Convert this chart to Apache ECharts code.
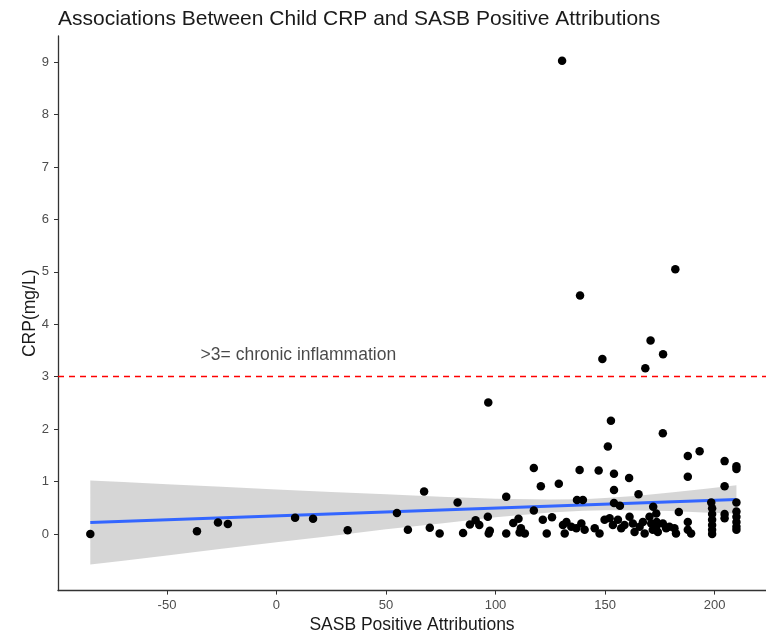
<!DOCTYPE html>
<html>
<head>
<meta charset="utf-8">
<script src="https://cdn.jsdelivr.net/npm/echarts@6/dist/echarts.min.js"></script>
<style>
  html, body { margin: 0; padding: 0; background: #ffffff; }
  #chart { width: 766px; height: 634px; }
</style>
</head>
<body>
<div id="chart"></div>
<script>
// Observations: [SASB positive attributions, CRP (mg/L)]
const observations = [
  [-85, 0.00], [-36.3, 0.05], [-26.7, 0.22], [-22.2, 0.19], [8.5, 0.31], [16.7, 0.29],
  [32.5, 0.07], [55, 0.40], [60, 0.08], [67.4, 0.81], [70, 0.12], [74.5, 0.01],
  [82.7, 0.60], [85.2, 0.02], [88.3, 0.18], [90.9, 0.26], [92.6, 0.17], [96.7, 2.51],
  [96.5, 0.33], [97.4, 0.06], [96.9, 0.01], [104.9, 0.71], [104.9, 0.01], [108.1, 0.21],
  [110.5, 0.29], [111.6, 0.11], [111, 0.03], [113.4, 0.01],
  [117.5, 1.26], [120.7, 0.91], [128.9, 0.96], [117.5, 0.45], [121.6, 0.27], [125.8, 0.32],
  [123.4, 0.01], [130.8, 0.17], [131.6, 0.01],
  [130.4, 9.03], [138.6, 4.55], [148.8, 3.34], [168.4, 3.16], [170.8, 3.69], [176.5, 3.43], [182.1, 5.05],
  [138.4, 1.22], [147.1, 1.21], [152.7, 2.16], [151.3, 1.67], [154.1, 1.15], [161, 1.07],
  [154.1, 0.84], [165.3, 0.76], [176.4, 1.92], [187.8, 1.49], [193.2, 1.58], [187.8, 1.09],
  [204.6, 1.39], [210, 1.29], [210, 1.24], [204.6, 0.91],
  [137.2, 0.65], [139.9, 0.65], [154.1, 0.59], [156.8, 0.54], [172, 0.52], [183.7, 0.42],
  [198.5, 0.60], [210, 0.60],
  [132.4, 0.23], [134.6, 0.14], [136.9, 0.11], [139.2, 0.20], [140.7, 0.08], [145.3, 0.11],
  [147.5, 0.01], [149.8, 0.27], [152.1, 0.30], [153.6, 0.17], [155.9, 0.27], [157.4, 0.11],
  [158.9, 0.17], [161.2, 0.33], [162.7, 0.20], [163.5, 0.04], [165.8, 0.14], [167.3, 0.23],
  [168.1, 0.01], [170.3, 0.33], [171.1, 0.20], [171.8, 0.08], [173.4, 0.39], [173.6, 0.23],
  [173.4, 0.14], [174.1, 0.04], [176.4, 0.20], [177.9, 0.11], [179.4, 0.14], [181.7, 0.11],
  [182.4, 0.01], [187.8, 0.23], [187.8, 0.08], [189.3, 0.01],
  [198.9, 0.49], [198.9, 0.38], [198.9, 0.27], [198.9, 0.17], [198.9, 0.08], [198.9, 0.00],
  [204.6, 0.38], [204.6, 0.30],
  [210, 0.43], [210, 0.33], [210, 0.23], [210, 0.14], [210, 0.08]
];

// Linear fit endpoints
const fitX = [-85, 210];
const fitY = [0.22, 0.66];

// 95% confidence band around the fit
const bandX  = [-85, -70, -50, -25, 0, 25, 50, 75, 100, 125, 140, 150, 165, 180, 195, 210];
const bandLo = [-0.58, -0.51, -0.41, -0.28, -0.16, -0.04, 0.09, 0.20, 0.32, 0.41, 0.445, 0.455, 0.45, 0.44, 0.41, 0.39];
const bandHi = [1.02, 0.99, 0.95, 0.90, 0.85, 0.80, 0.76, 0.71, 0.67, 0.66, 0.665, 0.685, 0.73, 0.79, 0.86, 0.93];

// Reference threshold and its note
const thresholdY = 3;
const noteText = '>3= chronic inflammation';
const notePos = [10, 3.41];

// Axis ticks
const xTicks = [-50, 0, 50, 100, 150, 200];
const yTicks = [0, 1, 2, 3, 4, 5, 6, 7, 8, 9];

const FONT = '"Liberation Sans", Arial, Helvetica, sans-serif';

const chart = echarts.init(document.getElementById('chart'), null, { renderer: 'canvas' });

chart.setOption({
  animation: false,
  backgroundColor: '#ffffff',
  title: {
    text: 'Associations Between Child CRP and SASB Positive Attributions',
    left: 53,
    top: 4,
    textStyle: { fontFamily: FONT, fontSize: 21, fontWeight: 'normal', color: '#1a1a1a' }
  },
  grid: { left: 58, right: 0, top: 36, bottom: 43.4, containLabel: false, outerBoundsMode: 'none' },
  xAxis: {
    type: 'value',
    min: -99.75,
    max: 223.5,
    name: 'SASB Positive Attributions',
    nameLocation: 'middle',
    nameGap: 23,
    nameTextStyle: { fontFamily: FONT, fontSize: 17.5, color: '#1a1a1a' },
    axisLine: { onZero: false, lineStyle: { color: '#333333', width: 1.3 } },
    axisTick: { show: true, length: 4, customValues: xTicks, lineStyle: { color: '#333333' } },
    axisLabel: { customValues: xTicks, fontFamily: FONT, fontSize: 13, color: '#4d4d4d', margin: 8 },
    splitLine: { show: false }
  },
  yAxis: {
    type: 'value',
    min: -1.08,
    max: 9.5,
    name: 'CRP(mg/L)',
    nameLocation: 'middle',
    nameGap: 19,
    nameMoveOverlap: false,
    nameTextStyle: { fontFamily: FONT, fontSize: 17.5, color: '#1a1a1a' },
    axisLine: { onZero: false, lineStyle: { color: '#333333', width: 1.3 } },
    axisTick: { show: true, length: 4, customValues: yTicks, lineStyle: { color: '#333333' } },
    axisLabel: { customValues: yTicks, fontFamily: FONT, fontSize: 13, color: '#4d4d4d', margin: 9 },
    splitLine: { show: false }
  },
  series: [
    {
      // Confidence band polygon
      type: 'custom',
      z: 1,
      silent: true,
      data: [[bandX[0], bandLo[0], bandHi[0]]],
      renderItem: function (params, api) {
        const pts = [];
        for (let i = 0; i < bandX.length; i++) pts.push(api.coord([bandX[i], bandHi[i]]));
        for (let i = bandX.length - 1; i >= 0; i--) pts.push(api.coord([bandX[i], bandLo[i]]));
        return {
          type: 'polygon',
          shape: { points: pts },
          style: { fill: 'rgba(153,153,153,0.4)', stroke: null }
        };
      }
    },
    {
      type: 'scatter',
      z: 3,
      symbol: 'circle',
      symbolSize: 8.5,
      itemStyle: { color: '#000000', opacity: 1 },
      data: observations,
      markLine: {
        silent: true,
        symbol: ['none', 'none'],
        label: { show: false },
        lineStyle: { color: '#ff0000', type: [6, 5], width: 1.3 },
        data: [{ yAxis: thresholdY }]
      }
    },
    {
      type: 'line',
      z: 2,
      symbol: 'none',
      silent: true,
      lineStyle: { color: '#3366ff', width: 3 },
      data: fitX.map((x, i) => [x, fitY[i]])
    },
    {
      type: 'scatter',
      z: 4,
      symbolSize: 0,
      silent: true,
      data: [notePos],
      label: {
        show: true,
        position: 'inside',
        formatter: noteText,
        fontFamily: FONT,
        fontSize: 17.5,
        color: '#1a1a1a'
      }
    }
  ]
});
</script>
</body>
</html>
